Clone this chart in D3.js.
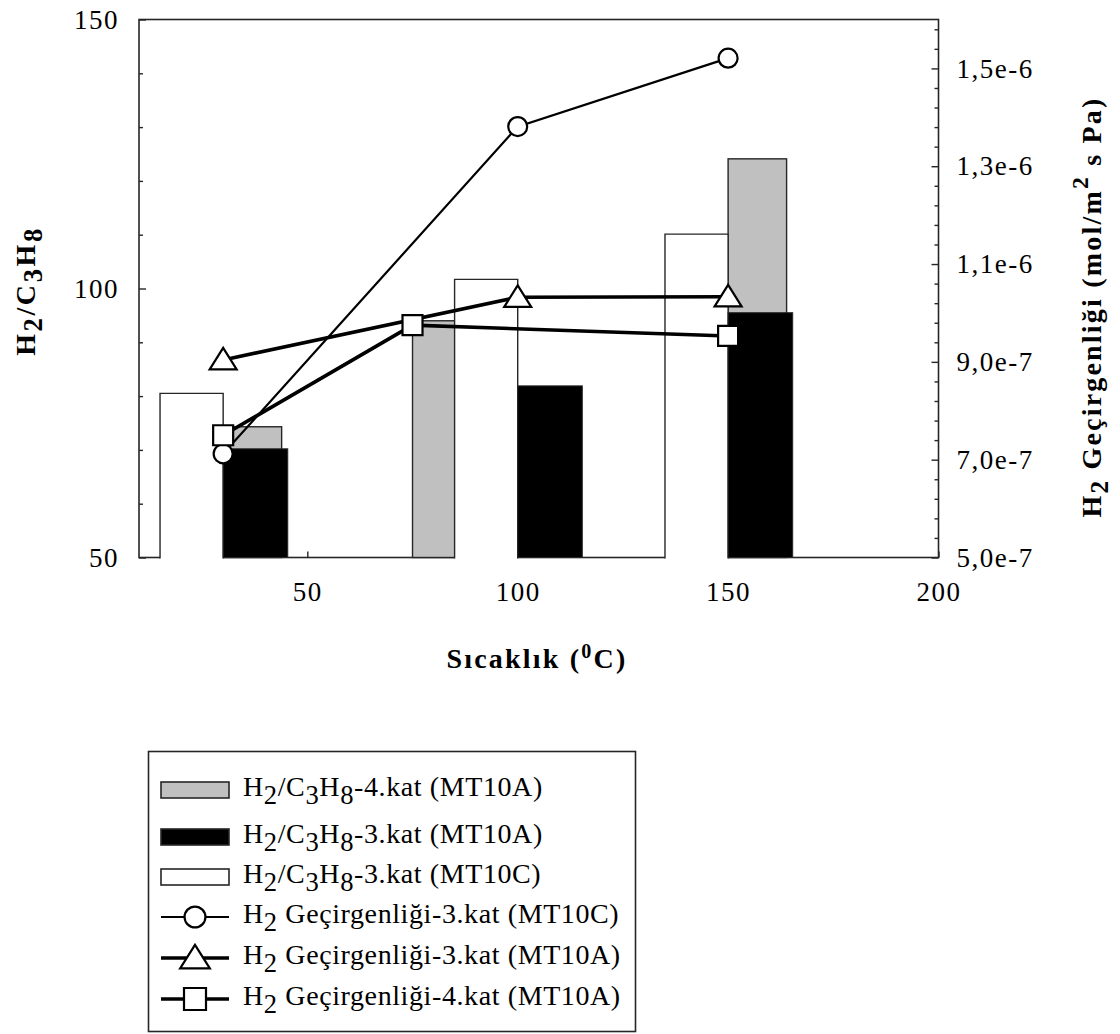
<!DOCTYPE html>
<html>
<head>
<meta charset="utf-8">
<script src="https://cdn.jsdelivr.net/npm/d3@7"></script>
<style>
  body { margin: 0; background: #fff; }
  svg { display: block; }
  text { font-family: "Liberation Serif", "Times New Roman", serif; fill: #000; }
</style>
</head>
<body>
<svg id="chart" width="1120" height="1034"></svg>
<script>
// ---- data ---------------------------------------------------------------
// Temperatures (°C) of each series
const tempsA4 = [30, 75, 150];    // 4.kat (MT10A)
const tempsA3 = [30, 100, 150];   // 3.kat (MT10A)
const tempsC3 = [30, 100, 150];   // 3.kat (MT10C)

// H2/C3H8 selectivity, left axis
const ratioA4 = [74.3, 94.0, 124.1];
const ratioA3 = [70.2, 81.9, 95.5];
const ratioC3 = [80.5, 101.7, 110.1];

// H2 permeance (mol/m2 s Pa), right axis
const permC3 = [7.12e-7, 1.381e-6, 1.521e-6];
const permA3 = [9.04e-7, 1.032e-6, 1.033e-6];
const permA4 = [7.50e-7, 9.75e-7, 9.53e-7];

// axis ticks
const xTickValues = [50, 100, 150, 200];
const leftMajorTicks = [50, 100, 150];
const rightMajorTicks = [5e-7, 7e-7, 9e-7, 1.1e-6, 1.3e-6, 1.5e-6];

const legendLabels = [
  "H_{2}/C_{3}H_{8}-4.kat (MT10A)",
  "H_{2}/C_{3}H_{8}-3.kat (MT10A)",
  "H_{2}/C_{3}H_{8}-3.kat (MT10C)",
  "H_{2} Geçirgenliği-3.kat (MT10C)",
  "H_{2} Geçirgenliği-3.kat (MT10A)",
  "H_{2} Geçirgenliği-4.kat (MT10A)"
];

// ---- layout -------------------------------------------------------------
const plot = { left: 139, right: 938.5, top: 19.5, bottom: 557.5 };
const INK = "#262626";
const GRAY = "#c0c0c0";
// bar extents in °C: white bars end at their temperature, filled ones start there
const WHITE_W = 15.0, GRAY_W = 13.9, BLACK_W = 15.35;

const svg = d3.select("#chart");

const x = d3.scaleLinear().domain([10, 200]).range([plot.left, plot.right]);
const yL = d3.scaleLinear().domain([50, 150]).range([plot.bottom, plot.top]);
const yR = d3.scaleLinear().domain([5e-7, 1.6e-6]).range([plot.bottom, plot.top]);

// text with _{sub} and ^{sup} parts
function richText(sel, str, o) {
  const re = /([_^])\{([^}]*)\}|([^_^]+)/g;
  let m, prev = 0;
  while ((m = re.exec(str))) {
    const kind = m[3] !== undefined ? 0 : (m[1] === "_" ? 1 : -1);
    const span = sel.append("tspan").text(m[3] !== undefined ? m[3] : m[2]);
    const shift = kind === 1 ? o.sub : kind === -1 ? -o.sup : 0;
    span.attr("dy", shift - prev);
    if (kind === 1) span.attr("font-size", o.fs * o.subScale);
    if (kind === -1) span.attr("font-size", o.fs * o.supScale);
    prev = shift;
  }
}

// ---- frame + axes -------------------------------------------------------
svg.append("rect")
  .attr("x", plot.left).attr("y", plot.top)
  .attr("width", plot.right - plot.left).attr("height", plot.bottom - plot.top)
  .attr("fill", "none").attr("stroke", INK).attr("stroke-width", 1.6);

function styleAxis(g) {
  g.select(".domain").remove();
  g.selectAll(".tick line").attr("stroke", INK).attr("stroke-width", 1.4);
  g.selectAll(".tick text")
    .attr("font-family", "Liberation Serif")
    .attr("font-size", 27).attr("letter-spacing", 1.5).attr("fill", "#000");
}

// left axis: minor every 10, major every 50
svg.append("g").attr("transform", `translate(${plot.left},0)`)
  .call(d3.axisLeft(yL).tickValues(d3.range(60, 150, 10).filter(v => v % 50)).tickSize(-4).tickFormat(""))
  .call(styleAxis);
svg.append("g").attr("transform", `translate(${plot.left},0)`)
  .call(d3.axisLeft(yL).tickValues(leftMajorTicks).tickSize(-7).tickPadding(20).tickFormat(d3.format("d")))
  .call(styleAxis);

// right axis: minor every 4e-8, major every 2e-7
const fmtSci = v => {
  const e = Math.floor(Math.log10(v) + 1e-9);
  const mant = (v / Math.pow(10, e)).toFixed(1).replace(".", ",");
  return mant + "e" + e;
};
svg.append("g").attr("transform", `translate(${plot.right},0)`)
  .call(d3.axisRight(yR).tickValues(d3.range(0, 28).filter(i => i % 5).map(i => (50 + 4 * i) * 1e-8)).tickSize(-4).tickFormat(""))
  .call(styleAxis);
svg.append("g").attr("transform", `translate(${plot.right},0)`)
  .call(d3.axisRight(yR).tickValues(rightMajorTicks).tickSize(-7).tickPadding(18).tickFormat(fmtSci))
  .call(styleAxis);

// bottom axis
svg.append("g").attr("transform", `translate(0,${plot.bottom})`)
  .call(d3.axisBottom(x).tickValues(xTickValues).tickSize(-6).tickPadding(24).tickFormat(d3.format("d")))
  .call(styleAxis);

// ---- bars (left axis) ---------------------------------------------------
const grayBars = tempsA4.map((t, i) => ({ x0: t, x1: t + GRAY_W, v: ratioA4[i] }));
const whiteBars = tempsC3.map((t, i) => ({ x0: t - WHITE_W, x1: t, v: ratioC3[i] }));
const blackBars = tempsA3.map((t, i) => ({ x0: t, x1: t + BLACK_W, v: ratioA3[i] }));

svg.append("g").selectAll("rect").data(grayBars).join("rect")
  .attr("x", d => x(d.x0)).attr("y", d => yL(d.v))
  .attr("width", d => x(d.x1) - x(d.x0)).attr("height", d => yL(50) - yL(d.v))
  .attr("fill", GRAY).attr("stroke", INK).attr("stroke-width", 1.4);

const wg = svg.append("g");
wg.selectAll("rect").data(whiteBars).join("rect")
  .attr("x", d => x(d.x0)).attr("y", d => yL(d.v))
  .attr("width", d => x(d.x1) - x(d.x0)).attr("height", d => yL(50) - yL(d.v) + 1.5)
  .attr("fill", "#fff");
wg.selectAll("path").data(whiteBars).join("path")
  .attr("d", d => `M${x(d.x0)},${yL(50) + 1}V${yL(d.v)}H${x(d.x1)}V${yL(50) + 1}`)
  .attr("fill", "none").attr("stroke", INK).attr("stroke-width", 1.4);

svg.append("g").selectAll("rect").data(blackBars).join("rect")
  .attr("x", d => x(d.x0)).attr("y", d => yL(d.v))
  .attr("width", d => x(d.x1) - x(d.x0)).attr("height", d => yL(50) - yL(d.v))
  .attr("fill", "#000").attr("stroke", INK).attr("stroke-width", 1);

// ---- permeance lines (right axis) ---------------------------------------
const markerPaths = {
  circle: d3.symbol().type(d3.symbolCircle).size(Math.PI * 9.5 * 9.5)(),
  square: "M-10,-10H10V10H-10Z",
  triangle: "M0,-12L13.5,9.5L-13.5,9.5Z"
};
const lineSeries = [
  { temps: tempsC3, vals: permC3, marker: "circle", width: 2.2 },
  { temps: tempsA3, vals: permA3, marker: "triangle", width: 3.6 },
  { temps: tempsA4, vals: permA4, marker: "square", width: 3.6 }
];
const line = d3.line().x(d => x(d.t)).y(d => yR(d.v));

lineSeries.forEach(s => {
  const pts = s.temps.map((t, i) => ({ t, v: s.vals[i] }));
  svg.append("path").datum(pts).attr("d", line)
    .attr("fill", "none").attr("stroke", "#000").attr("stroke-width", s.width);
});
lineSeries.forEach(s => {
  const pts = s.temps.map((t, i) => ({ t, v: s.vals[i] }));
  svg.append("g").selectAll("path").data(pts).join("path")
    .attr("transform", d => `translate(${x(d.t)},${yR(d.v)})`)
    .attr("d", markerPaths[s.marker])
    .attr("fill", "#fff").attr("stroke", "#000").attr("stroke-width", 2.2);
});

// ---- axis titles --------------------------------------------------------
const leftTitle = svg.append("text")
  .attr("transform", "translate(35,291) rotate(-90)")
  .attr("text-anchor", "middle").attr("font-weight", "bold")
  .attr("font-size", 28).attr("letter-spacing", 2.6);
richText(leftTitle, "H_{2}/C_{3}H_{8}", { fs: 28, sub: 7, sup: 0, subScale: 0.95, supScale: 1 });

const bottomTitle = svg.append("text")
  .attr("x", 537).attr("y", 668)
  .attr("text-anchor", "middle").attr("font-weight", "bold")
  .attr("font-size", 28).attr("letter-spacing", 2.2);
richText(bottomTitle, "Sıcaklık (^{0}C)", { fs: 28, sub: 0, sup: 10, subScale: 1, supScale: 0.72 });

const rightTitle = svg.append("text")
  .attr("transform", "translate(1101,307) rotate(-90)")
  .attr("text-anchor", "middle").attr("font-weight", "bold")
  .attr("font-size", 28).attr("letter-spacing", 2.2);
richText(rightTitle, "H_{2} Geçirgenliği (mol/m^{2} s Pa)", { fs: 28, sub: 7, sup: 13, subScale: 0.9, supScale: 0.85 });

// ---- legend -------------------------------------------------------------
const legendBox = { x: 148.5, y: 751.5, w: 487, h: 280 };
const legendRowY = [790, 837, 877, 917, 958, 999];
const swatchX0 = 161, swatchX1 = 229, legendTextX = 243;

const lg = svg.append("g");
lg.append("rect")
  .attr("x", legendBox.x).attr("y", legendBox.y)
  .attr("width", legendBox.w).attr("height", legendBox.h)
  .attr("fill", "#fff").attr("stroke", INK).attr("stroke-width", 1.6);

const barKeys = [
  { fill: GRAY }, { fill: "#000" }, { fill: "#fff" }
];
barKeys.forEach((k, i) => {
  lg.append("rect")
    .attr("x", swatchX0).attr("y", legendRowY[i] - 8)
    .attr("width", swatchX1 - swatchX0).attr("height", 16)
    .attr("fill", k.fill).attr("stroke", INK).attr("stroke-width", 1.6);
});
lineSeries.forEach((s, j) => {
  const i = j + 3, cy = legendRowY[i];
  lg.append("line")
    .attr("x1", swatchX0).attr("x2", swatchX1).attr("y1", cy).attr("y2", cy)
    .attr("stroke", "#000").attr("stroke-width", s.width);
  lg.append("path")
    .attr("transform", `translate(${(swatchX0 + swatchX1) / 2},${cy}) scale(1.1)`)
    .attr("d", markerPaths[s.marker])
    .attr("fill", "#fff").attr("stroke", "#000").attr("stroke-width", 2);
});

legendLabels.forEach((lab, i) => {
  const t = lg.append("text")
    .attr("x", legendTextX).attr("y", legendRowY[i] + 6)
    .attr("font-size", 28).attr("letter-spacing", 0.6);
  richText(t, lab, { fs: 28, sub: 8, sup: 0, subScale: 0.95, supScale: 1 });
});
</script>
</body>
</html>
